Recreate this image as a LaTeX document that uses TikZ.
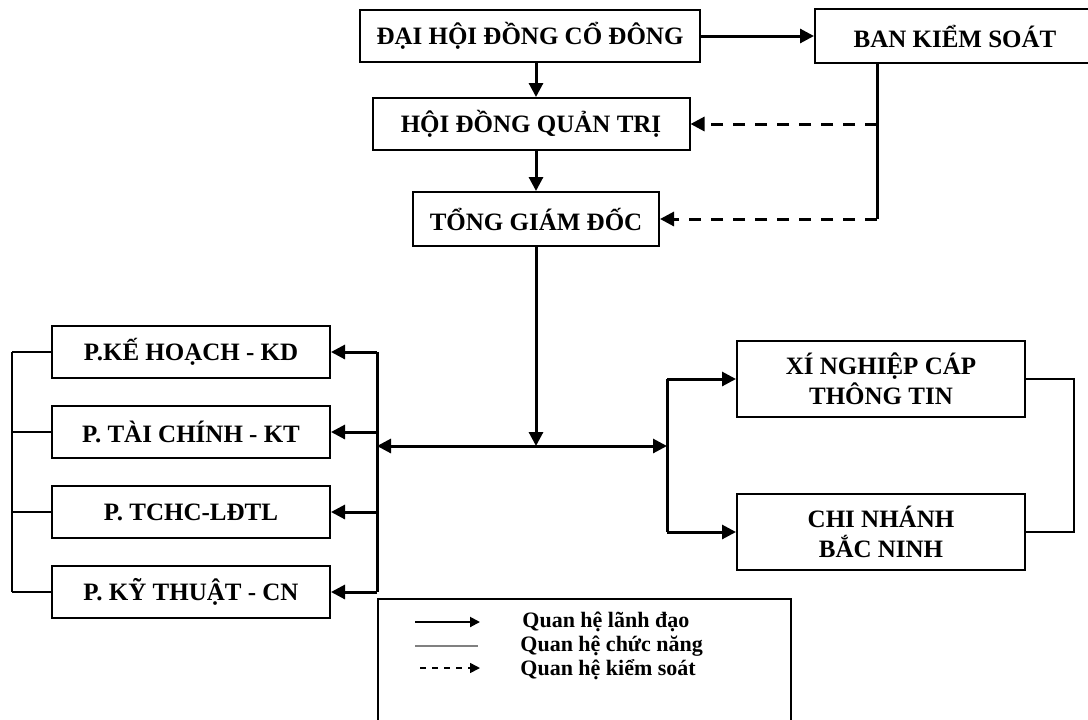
\documentclass[tikz,border=0pt]{standalone}
\usepackage{fontspec}
\setmainfont{Liberation Serif}
\usepackage{tikz}
\usetikzlibrary{arrows.meta,positioning}
\tikzstyle{box} = [draw, line width=1pt, text centered, align=center, inner sep=2pt, font=\bfseries\fontsize{12.5}{15}\selectfont]
\tikzstyle{dept} = [box, minimum width=139pt, minimum height=26pt]
\tikzstyle{unit} = [box, minimum width=144pt, minimum height=38pt]
\tikzstyle{lgd} = [font=\bfseries\fontsize{11}{13}\selectfont, anchor=west, inner sep=0pt]

\begin{document}
\begin{tikzpicture}[x=0.5pt,y=-0.5pt,>={Triangle[length=7pt,width=7pt]}]
  \useasboundingbox (0,0) rectangle (1088,719);

  % top of the chart
  \node[box,minimum width=170pt,minimum height=26pt] (dhd) at (530,36) {ĐẠI HỘI ĐỒNG CỔ ĐÔNG};
  \node[box,minimum width=140pt,minimum height=27pt] (bks) at (955,36) {BAN KIỂM SOÁT};
  \node[box,minimum width=158.5pt,minimum height=26pt] (hdqt) at (531,124) {HỘI ĐỒNG QUẢN TRỊ};
  \node[box,minimum width=123pt,minimum height=27pt] (tgd) at (536,219) {TỔNG GIÁM ĐỐC};

  % departments
  \node[dept] (kh) at (191,352) {P.KẾ HOẠCH - KD};
  \node[dept,below of=kh,node distance=40pt] (tc) {P. TÀI CHÍNH - KT};
  \node[dept,below of=tc,node distance=40pt] (tchc) {P. TCHC-LĐTL};
  \node[dept,below of=tchc,node distance=40pt] (kt) {P. KỸ THUẬT - CN};

  % units
  \node[unit] (xn) at (881,379) {XÍ NGHIỆP CÁP\\THÔNG TIN};
  \node[unit] (cn) at (881,532) {CHI NHÁNH\\BẮC NINH};

  \coordinate (ctl) at (877,219);
  \coordinate (hub) at (536,446);
  \coordinate (lbus) at (377,446);
  \coordinate (rbus) at (667,446);
  \coordinate (fbus) at (12,446);

  \begin{scope}[every path/.style=draw,line width=1.5pt]
    \path[->] (dhd) -- (bks);
    \path[->] (dhd.south -| tgd) -- (hdqt.north -| tgd);
    \path[->] (hdqt.south -| tgd) -- (tgd.north);
    \path[->] (tgd) -- (hub);
    \path[<->] (lbus) -- (rbus);
    \path (bks.south -| ctl) -- (ctl);
    \path[->,dash pattern=on 6pt off 5pt] (ctl |- hdqt) -- (hdqt.east);
    \path[->,dash pattern=on 6pt off 5pt] (ctl) -- (tgd.east);
    \path (lbus |- kh) -- (lbus |- kt);
    \foreach \n in {kh,tc,tchc,kt}
      \path[->] (lbus |- \n) -- (\n.east);
    \path (rbus |- xn) -- (rbus |- cn);
    \path[->] (rbus |- xn) -- (xn.west);
    \path[->] (rbus |- cn) -- (cn.west);
  \end{scope}

  \begin{scope}[every path/.style=draw,line width=0.8pt]
    \path (fbus |- kh) -- (fbus |- kt);
    \foreach \n in {kh,tc,tchc,kt}
      \path (fbus |- \n) -- (\n.west);
    \path (xn.east) -- ++(48,0) |- (cn.east);
  \end{scope}

  % legend
  \node[draw,line width=1pt,minimum width=206.5pt,minimum height=66pt,anchor=north west] (legend) at (377,598) {};
  \node[lgd] (lead) at (522,622) {Quan hệ lãnh đạo};
  \node[lgd] (func) at (520,646) {Quan hệ chức năng};
  \node[lgd] (ctrl) at (520,670) {Quan hệ kiểm soát};
  \coordinate (a1) at (415,622);
  \coordinate (a2) at (415,646);
  \coordinate (a3) at (420,668);
  \draw[-{Triangle[length=5pt,width=5pt]},line width=1pt] (a1) -- (a1 -| 480,0);
  \draw[line width=1pt,gray] (a2) -- (a2 -| 478,0);
  \draw[-{Triangle[length=5pt,width=5pt]},line width=0.8pt,dash pattern=on 3pt off 3pt] (a3) -- (a3 -| 480,0);
\end{tikzpicture}
\end{document}
